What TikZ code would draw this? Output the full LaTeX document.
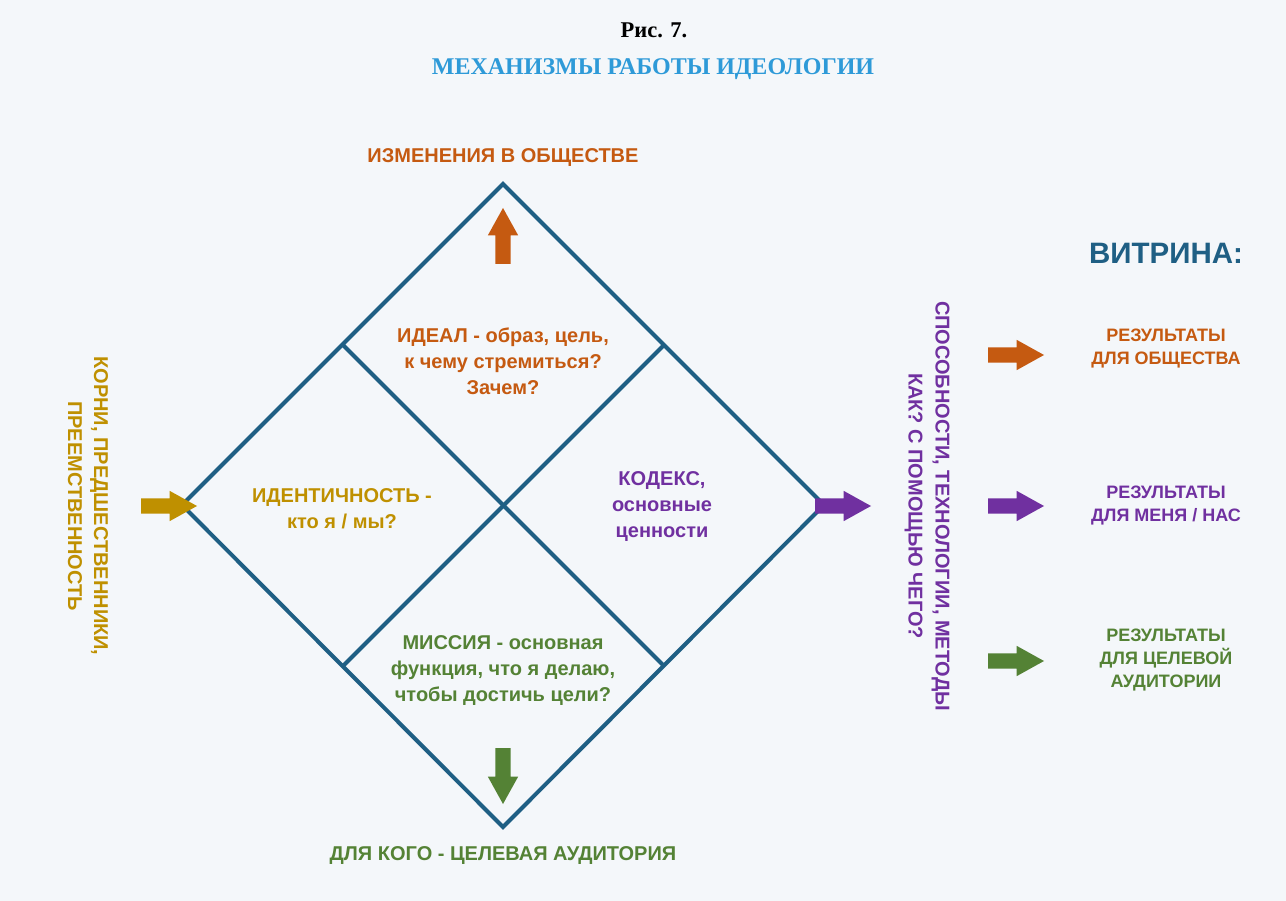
\documentclass[tikz,border=0pt]{standalone}
\usepackage{fontspec}
\setmainfont{Liberation Sans}
\newfontfamily\captfont{Liberation Serif}
\usetikzlibrary{shapes.arrows}

\definecolor{bgcol}{HTML}{F4F7FA}
\definecolor{framecol}{HTML}{1F5F84}
\definecolor{orangecol}{HTML}{C55A11}
\definecolor{goldcol}{HTML}{BF9000}
\definecolor{purplecol}{HTML}{7030A0}
\definecolor{greencol}{HTML}{548235}
\definecolor{titlecol}{HTML}{2E9AD8}

\tikzset{
  blockarrow/.style={single arrow, draw=none, fill=#1, minimum height=56pt,
    single arrow head extend=7.5pt, single arrow tip angle=58,
    inner xsep=0pt, inner ysep=7.5pt, outer sep=0pt, anchor=tail},
  txt/.style={text=#1, align=center, inner sep=0pt,
    font=\bfseries\fontsize{20}{26}\selectfont},
  sidetxt/.style={text=#1, align=center, inner sep=0pt,
    font=\bfseries\fontsize{18}{23}\selectfont},
  edge/.style={draw=framecol, line width=4pt, line join=miter}
}

\begin{document}
\begin{tikzpicture}[x=1pt,y=-1pt]
  \fill[bgcol] (0,0) rectangle (1286,901);
  \useasboundingbox (0,0) rectangle (1286,901);

  % caption
  \node[inner sep=0pt, font=\captfont\bfseries\fontsize{22.5}{26}\selectfont] (fig) at (654,30) {Рис. 7.};
  \node[inner sep=0pt, text=titlecol, font=\captfont\bfseries\fontsize{24}{28}\selectfont] (title) at (653,69) {МЕХАНИЗМЫ РАБОТЫ ИДЕОЛОГИИ};

  % diamond
  \coordinate (D-1) at (503,184);
  \coordinate (D-2) at (824,505);
  \coordinate (D-3) at (503,827);
  \coordinate (D-4) at (182,505);
  \coordinate (M-1) at (343,345);
  \coordinate (M-2) at (664,345);
  \coordinate (M-3) at (664,666);
  \coordinate (M-4) at (343,666);
  \draw[edge] (D-1) -- (D-2) -- (D-3) -- (D-4) -- cycle;
  \draw[edge] (M-1) -- (M-3);
  \draw[edge] (M-2) -- (M-4);

  \node[txt=orangecol] (top) at (503,158) {ИЗМЕНЕНИЯ В ОБЩЕСТВЕ};
  \node[txt=greencol] (bottom) at (503,856) {ДЛЯ КОГО - ЦЕЛЕВАЯ АУДИТОРИЯ};

  \node[txt=orangecol] (ideal) at (503,361) {ИДЕАЛ - образ, цель,\\к чему стремиться?\\Зачем?};
  \node[txt=goldcol] (ident) at (342,509) {ИДЕНТИЧНОСТЬ -\\кто я / мы?};
  \node[txt=purplecol] (codex) at (662,507) {КОДЕКС,\\основные\\ценности};
  \node[txt=greencol] (mission) at (503,671) {МИССИЯ - основная\\функция, что я делаю,\\чтобы достичь цели?};

  \node[txt=goldcol, rotate=-90] (roots) at (88,506) {КОРНИ, ПРЕДШЕСТВЕННИКИ,\\ПРЕЕМСТВЕННОСТЬ};
  \node[txt=purplecol, rotate=-90, font=\bfseries\fontsize{20}{27}\selectfont] (skills) at (927,506) {СПОСОБНОСТИ, ТЕХНОЛОГИИ, МЕТОДЫ\\КАК? С ПОМОЩЬЮ ЧЕГО?};

  \node[blockarrow=goldcol] (A-1) at (141,506) {};
  \node[blockarrow=orangecol, rotate=90] (A-2) at (503,264) {};
  \node[blockarrow=purplecol] (A-3) at (815,506) {};
  \node[blockarrow=greencol, rotate=-90] (A-4) at (503,748) {};

  % showcase
  \node[inner sep=0pt, text=framecol, font=\bfseries\fontsize{29.5}{32}\selectfont] (vitrina) at (1166,253) {ВИТРИНА:};
  \node[blockarrow=orangecol] (R-1) at (988,355) {};
  \node[blockarrow=purplecol] (R-2) at (988,506) {};
  \node[blockarrow=greencol] (R-3) at (988,661) {};
  \node[sidetxt=orangecol] (res-1) at (1166,349) {РЕЗУЛЬТАТЫ\\ДЛЯ ОБЩЕСТВА};
  \node[sidetxt=purplecol] (res-2) at (1166,506) {РЕЗУЛЬТАТЫ\\ДЛЯ МЕНЯ / НАС};
  \node[sidetxt=greencol] (res-3) at (1166,660) {РЕЗУЛЬТАТЫ\\ДЛЯ ЦЕЛЕВОЙ\\АУДИТОРИИ};
\end{tikzpicture}
\end{document}
